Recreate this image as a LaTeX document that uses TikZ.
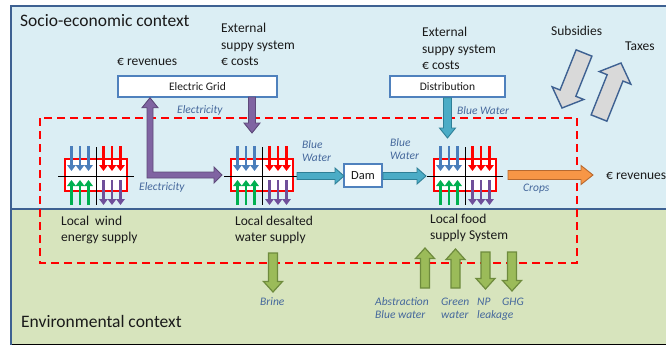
\documentclass[tikz,border=0pt]{standalone}
\usepackage{fontspec}
\setmainfont{Carlito}
\usetikzlibrary{calc,arrows.meta}

\definecolor{skyfill}{HTML}{DBEEF4}
\definecolor{grassfill}{HTML}{D7E4BD}
\definecolor{frameblue}{HTML}{3E6192}
\definecolor{boxblue}{HTML}{4F81BD}
\definecolor{labelblue}{HTML}{45689C}
\definecolor{elecfill}{HTML}{8064A2}
\definecolor{elecline}{HTML}{5E4A7A}
\definecolor{waterfill}{HTML}{4BACC6}
\definecolor{waterline}{HTML}{2E7F96}
\definecolor{cropfill}{HTML}{F79646}
\definecolor{cropline}{HTML}{B7692F}
\definecolor{envfill}{HTML}{9BBB59}
\definecolor{envline}{HTML}{6E8B3D}
\definecolor{policyfill}{HTML}{D9D9D9}
\definecolor{fluxblue}{HTML}{4A7EBB}
\definecolor{fluxgreen}{HTML}{00B050}
\definecolor{fluxpurple}{HTML}{6F4F9A}
\definecolor{textdark}{HTML}{1A1A1A}
\definecolor{baseline}{HTML}{A9BF96}

% block arrow: style, from, to, shaft half width, head half width, head length
\newcommand\blockarrow[6]{%
  \coordinate (ba-q) at ($(#3)!#6!(#2)$);
  \path[#1] ($(#2)!#4!90:(#3)$) -- ($(ba-q)!#4!90:(#3)$) -- ($(ba-q)!#5!90:(#3)$) -- (#3)
    -- ($(ba-q)!#5!-90:(#3)$) -- ($(ba-q)!#4!-90:(#3)$) -- ($(#2)!#4!-90:(#3)$) -- cycle;
}

% inputs/outputs glyph of a local supply system, centred on the cross
\newcommand\fluxarrows[1]{%
  \begin{scope}[shift={(#1)}]
    \draw[black, line width=0.7pt] (-38,0) -- (38,0) (0,-29) -- (0,29);
    \foreach \dx in {-24.5,-16,-7.5} {
      \draw[fluxblue, fluxtip] (\dx,-30) -- (\dx,-5);
      \draw[fluxgreen, fluxtip] (\dx,29) -- (\dx,4);
    }
    \foreach \dx in {7.5,16,24.5} {
      \draw[red, fluxtip] (\dx,-30) -- (\dx,-5);
      \draw[fluxpurple, fluxtip] (\dx,4) -- (\dx,29);
    }
  \end{scope}
}

\tikzset{
  txt/.style={inner sep=0pt, anchor=base west, text=textdark, align=left,
    font=\fontsize{13.5}{16.5}\selectfont},
  header/.style={inner sep=0pt, anchor=base west, text=textdark,
    font=\fontsize{17.5}{20}\selectfont},
  flowlbl/.style={inner sep=0pt, anchor=base west, text=labelblue, align=left,
    font=\fontsize{11.5}{13.5}\selectfont\itshape},
  boxstyle/.style={draw=boxblue, line width=1.5pt, fill=white, inner sep=0pt,
    text=textdark, font=\fontsize{11.5}{14}\selectfont},
  fluxbox/.style={draw=red, line width=1.8pt, fill=white, inner sep=0pt,
    minimum width=62pt, minimum height=32pt},
  fluxtip/.style={line width=2.3pt, -{Triangle[length=6pt,width=8.5pt]}},
  elecarrow/.style={fill=elecfill, draw=elecline, line width=0.9pt},
  waterarrow/.style={fill=waterfill, draw=waterline, line width=0.9pt},
  croparrow/.style={fill=cropfill, draw=cropline, line width=0.9pt},
  envarrow/.style={fill=envfill, draw=envline, line width=1.2pt},
  policyarrow/.style={fill=policyfill, draw=frameblue, line width=1.4pt}
}

\begin{document}
\begin{tikzpicture}[x=1pt, y=-1pt]
\useasboundingbox (0,0) rectangle (666,345);

% context backgrounds
\fill[skyfill] (11,6) rectangle (667,209);
\fill[grassfill] (11,209) rectangle (667,344);
\draw[baseline, line width=1pt] (11,344) -- (667,344);
\draw[frameblue, line width=2pt] (667,6) -- (11,6) -- (11,345);
\draw[frameblue, line width=2pt] (11,209) -- (667,209);

% system boundary
\draw[red, line width=2.4pt, dash pattern=on 8pt off 5pt] (40,118) rectangle (577,263);

% boxes
\node[boxstyle, minimum width=159pt, minimum height=21pt] (grid) at (197.5,86.5) {Electric Grid};
\node[boxstyle, minimum width=115pt, minimum height=21pt] (dist) at (447.5,86.5) {Distribution};
\node[boxstyle, minimum width=38pt, minimum height=23pt, font=\fontsize{12.5}{14}\selectfont] (dam) at (363,175.5) {Dam};

% local supply systems
\node[fluxbox] (wind) at (96,175) {};
\node[fluxbox] (desal) at (262,175) {};
\node[fluxbox] (food) at (465,175) {};
\fluxarrows{96,176}
\fluxarrows{262,176}
\fluxarrows{465,176}

% electricity flows
\coordinate (split) at (150,175);
\coordinate (desal-in) at (222,175);
\path[elecarrow] ($(split)+(-3,3)$) -- ($(split |- grid.south)+(-3,10)$)
  -- ($(split |- grid.south)+(-8,10)$) -- (split |- grid.south)
  -- ($(split |- grid.south)+(8,10)$) -- ($(split |- grid.south)+(3,10)$)
  -- ($(split)+(3,-3)$) -- ($(desal-in)+(-8,-3)$) -- ($(desal-in)+(-8,-8)$)
  -- (desal-in) -- ($(desal-in)+(-8,8)$) -- ($(desal-in)+(-8,3)$) -- cycle;
\coordinate (grid-out) at (252,97);
\coordinate (desal-top) at (252,133);
\blockarrow{elecarrow}{grid-out}{desal-top}{3.5pt}{8pt}{10pt}

% water flows
\coordinate (food-top) at (447.5,138);
\blockarrow{waterarrow}{dist.south}{food-top}{4pt}{8pt}{10pt}
\coordinate (desal-out) at (297,176);
\coordinate (dam-in) at (344,176);
\blockarrow{waterarrow}{desal-out}{dam-in}{3.5pt}{8pt}{9pt}
\coordinate (dam-out) at (383,176);
\coordinate (food-in) at (426,176);
\blockarrow{waterarrow}{dam-out}{food-in}{3.5pt}{8pt}{9pt}

% crops to market
\coordinate (food-out) at (508,175);
\coordinate (market) at (593,175);
\blockarrow{croparrow}{food-out}{market}{4.5pt}{9.5pt}{12pt}

% environmental exchanges
\coordinate (brine-a) at (273,253);
\coordinate (brine-b) at (273,292);
\blockarrow{envarrow}{brine-a}{brine-b}{4.5pt}{9.5pt}{10.5pt}
\coordinate (abs-a) at (425,288);
\coordinate (abs-b) at (425,248);
\blockarrow{envarrow}{abs-a}{abs-b}{4.5pt}{9.5pt}{10.5pt}
\coordinate (gw-a) at (455.5,288);
\coordinate (gw-b) at (455.5,249);
\blockarrow{envarrow}{gw-a}{gw-b}{4.5pt}{9.5pt}{10.5pt}
\coordinate (np-a) at (485.5,252);
\coordinate (np-b) at (485.5,289);
\blockarrow{envarrow}{np-a}{np-b}{4.5pt}{9.5pt}{10.5pt}
\coordinate (ghg-a) at (512,252);
\coordinate (ghg-b) at (512,291);
\blockarrow{envarrow}{ghg-a}{ghg-b}{4.5pt}{9.5pt}{10.5pt}

% policy instruments
\coordinate (sub-a) at (584,53);
\coordinate (sub-b) at (562,108);
\blockarrow{policyarrow}{sub-a}{sub-b}{8.5pt}{17pt}{16pt}
\coordinate (tax-a) at (599,118);
\coordinate (tax-b) at (621,63);
\blockarrow{policyarrow}{tax-a}{tax-b}{8.5pt}{17pt}{16pt}

% texts (multi-line nodes are placed by the baseline of their last line)
\node[header] (socio) at (20,27) {Socio-economic context};
\node[header] (env) at (21,327) {Environmental context};
\node[txt] (rev1) at (117,65) {€ revenues};
\node[txt] (ext1) at (221,66) {External\\suppy system\\€ costs};
\node[txt] (ext2) at (422,69.5) {External\\suppy system\\€ costs};
\node[txt] (subs) at (551,36) {Subsidies};
\node[txt] (tax) at (625,51) {Taxes};
\node[txt] (rev2) at (606,179) {€ revenues};
\node[txt] (lwind) at (61,241.5) {Local~\ wind\\energy supply};
\node[txt] (ldesal) at (235,241.5) {Local desalted\\water supply};
\node[txt] (lfood) at (430,239.5) {Local food\\supply System};

\node[flowlbl] (el1) at (177,113) {Electricity};
\node[flowlbl] (bw1) at (457,114) {Blue Water};
\node[flowlbl] (el2) at (139,190) {Electricity};
\node[flowlbl] (bw2) at (302,161.5) {Blue\\Water};
\node[flowlbl] (bw3) at (390,159.5) {Blue\\Water};
\node[flowlbl] (crops) at (523,191) {Crops};
\node[flowlbl] (brine) at (260,305) {Brine};
\node[flowlbl] (abs) at (375,318.5) {Abstraction\\Blue water};
\node[flowlbl] (gw) at (441,318.5) {Green\\water};
\node[flowlbl] (np) at (477,318.5) {NP\\leakage};
\node[flowlbl] (ghg) at (502,305) {GHG};
\end{tikzpicture}
\end{document}
